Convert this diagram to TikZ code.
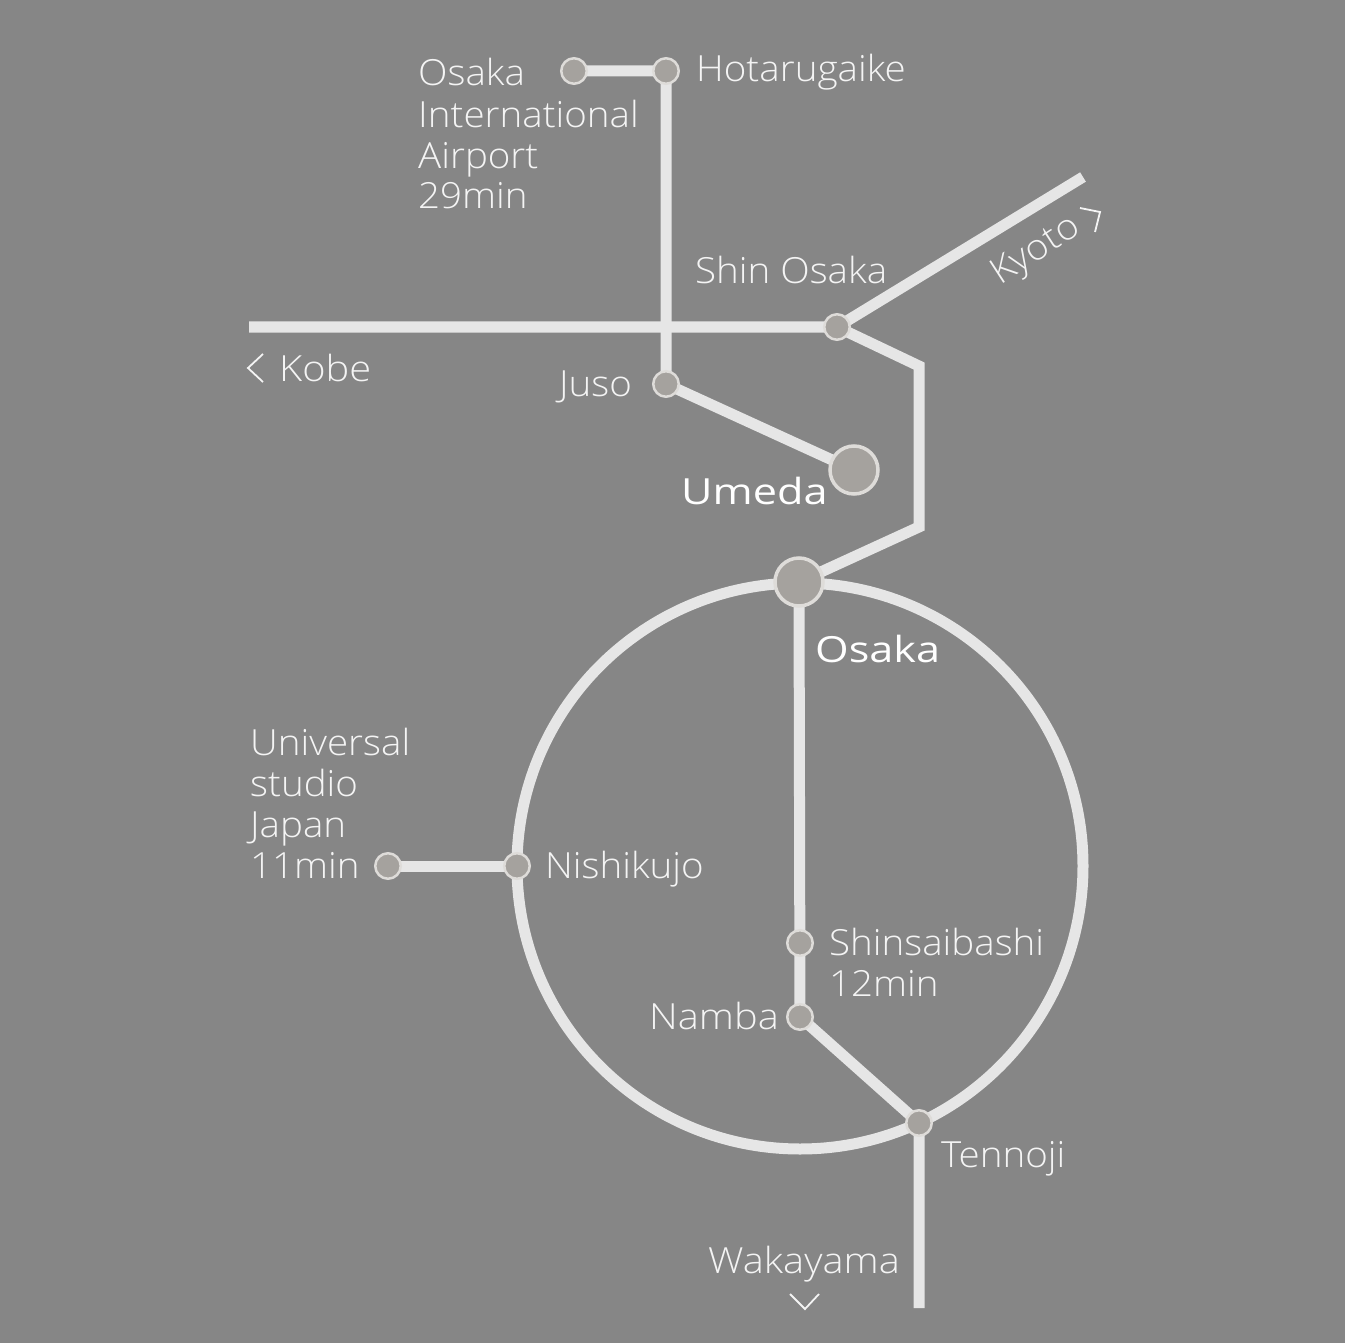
\documentclass[tikz,border=0pt]{standalone}
\usepackage{fontspec}
\setmainfont{Open Sans Light}[FakeStretch=1.07]
\newfontfamily\widelight{Open Sans Light}[FakeStretch=1.105]
\newfontfamily\boldish{Open Sans}[FakeStretch=1.2]
\definecolor{bg}{HTML}{868686}
\definecolor{track}{HTML}{E6E6E6}
\definecolor{stopfill}{HTML}{A5A29E}
\definecolor{stoprim}{HTML}{DEDCD9}
\definecolor{labeltext}{HTML}{F4F4F4}
\tikzset{
  rail/.style={draw=track,line width=11pt,line join=miter},
  thinline/.style={draw=labeltext,line width=1.8pt},
  stopdot/.style={circle,draw=stoprim,line width=2.5pt,fill=stopfill,minimum size=25.5pt,inner sep=0pt},
  hub/.style={circle,draw=stoprim,line width=3.5pt,fill=stopfill,minimum size=48pt,inner sep=0pt},
  lbl/.style={text=labeltext,inner sep=0pt,anchor=base west,font=\fontsize{36}{41}\selectfont,align=left},
  widelbl/.style={lbl,font=\fontsize{36}{41}\widelight\selectfont},
  blbl/.style={text=white,inner sep=0pt,anchor=base west,font=\fontsize{36}{41}\boldish\selectfont},
}
\begin{document}
\begin{tikzpicture}[x=1pt,y=-1pt]
\useasboundingbox (0,0) rectangle (1345,1343);
\fill[bg] (0,0) rectangle (1345,1343);
\coordinate (kobeEnd) at (249,327);
\coordinate (kyotoEnd) at (1083,177);
\coordinate (bendA) at (919,366);
\coordinate (bendB) at (919,527);
\coordinate (wakaEnd) at (919,1308);
\coordinate (center) at (800,866);
\coordinate (airportC) at (574,71);
\coordinate (hotaruC) at (666,71);
\coordinate (shinC) at (837,327);
\coordinate (jusoC) at (666,384);
\coordinate (umedaC) at (854,470);
\coordinate (osakaC) at (799,582);
\coordinate (usjC) at (388,866);
\coordinate (nishiC) at (517,866);
\coordinate (shinsaiC) at (800,943);
\coordinate (nambaC) at (800,1017);
\coordinate (tennojiC) at (919,1123);
\draw[rail] (center) circle (283);
\draw[rail] (airportC) -- (hotaruC) -- (jusoC) -- (umedaC);
\draw[rail] (kobeEnd) -- (shinC) -- (kyotoEnd);
\draw[rail] (shinC) -- (bendA) -- (bendB) -- (osakaC);
\draw[rail] (osakaC) -- (nambaC) -- (tennojiC) -- (wakaEnd);
\draw[rail] (usjC) -- (nishiC);
\node[stopdot] (airport) at (airportC) {};
\node[stopdot] (hotaru) at (hotaruC) {};
\node[stopdot] (shin) at (shinC) {};
\node[stopdot] (juso) at (jusoC) {};
\node[hub] (umeda) at (umedaC) {};
\node[hub] (osaka) at (osakaC) {};
\node[stopdot] (usj) at (usjC) {};
\node[stopdot] (nishi) at (nishiC) {};
\node[stopdot] (shinsai) at (shinsaiC) {};
\node[stopdot] (namba) at (nambaC) {};
\node[stopdot] (tennoji) at (tennojiC) {};
\node[lbl] (tAir) at (418,209) {Osaka\\International\\Airport\\29min};
\node[lbl] (tHot) at (696,82) {Hotarugaike};
\node[lbl] (tShin) at (695,284) {Shin Osaka};
\node[widelbl] (tKobe) at (279,381) {Kobe};
\node[lbl] (tJuso) at (559,396) {Juso};
\node[blbl] (tUme) at (681,504) {Umeda};
\node[blbl] (tOsa) at (815,662) {Osaka};
\node[lbl] (tUsj) at (250,878) {Universal\\studio\\Japan\\11min};
\node[lbl] (tNis) at (545,878) {Nishikujo};
\node[lbl] (tSsb) at (829,996) {Shinsaibashi\\12min};
\node[widelbl] (tNam) at (649,1029) {Namba};
\node[lbl] (tTen) at (941,1167) {Tennoji};
\node[widelbl] (tWak) at (708,1273) {Wakayama};
\node[lbl,rotate=33,anchor=base west] (tKyo) at (1000,286) {Kyoto};
\coordinate (ka) at (263,354); \coordinate (kb) at (248,368); \coordinate (kc) at (263,382);
\draw[thinline] (ka) -- (kb) -- (kc);
\coordinate (wa) at (790,1294); \coordinate (wb) at (805,1309); \coordinate (wc) at (819,1294);
\draw[thinline] (wa) -- (wb) -- (wc);
\coordinate (ya) at (1080,208); \coordinate (yb) at (1100,212); \coordinate (yc) at (1095,232);
\draw[thinline] (ya) -- (yb) -- (yc);
\end{tikzpicture}
\end{document}
